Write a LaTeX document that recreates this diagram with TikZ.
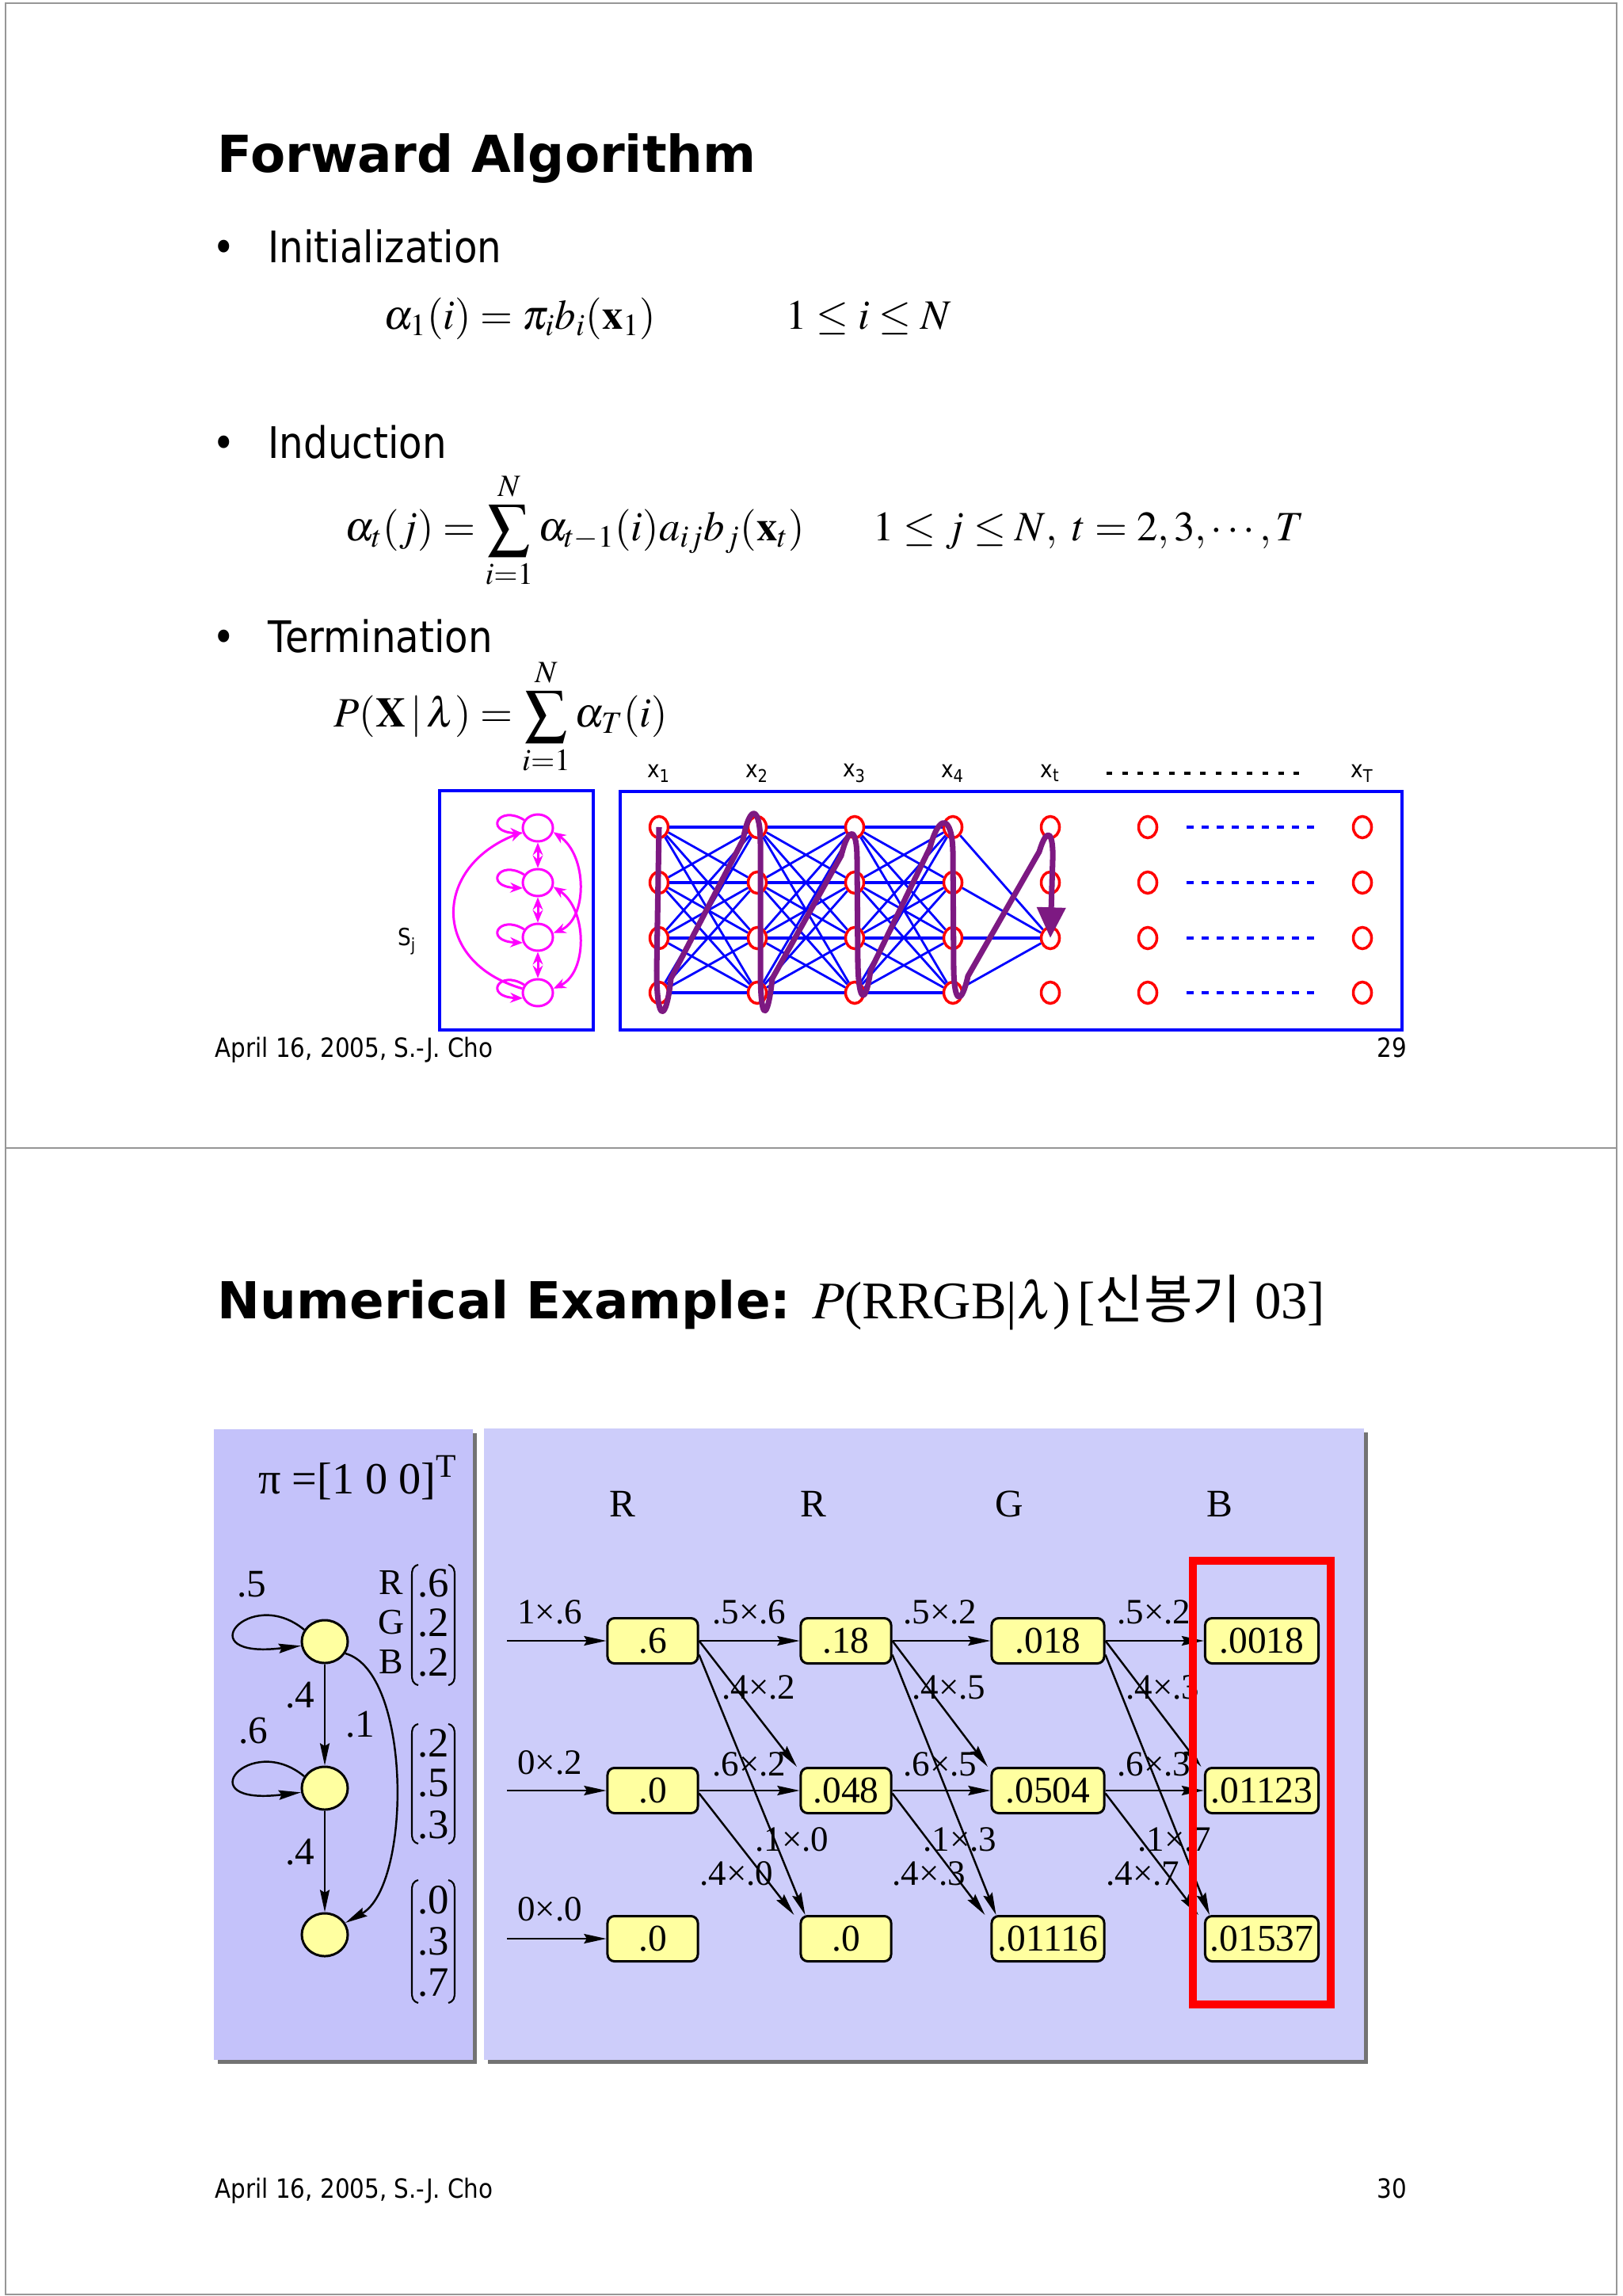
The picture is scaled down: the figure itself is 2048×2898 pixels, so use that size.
\documentclass[tikz,border=0pt]{standalone}
\usepackage{mathptmx}
\usepackage{fontspec}
\setmainfont{Liberation Serif}
\newfontfamily\vsans{DejaVu Sans}[FakeStretch=0.88]
\newfontfamily\vwide{DejaVu Sans}
\newfontfamily\kr{Noto Sans CJK KR}
\usetikzlibrary{arrows.meta,shapes.geometric}
\definecolor{pnlL}{RGB}{196,194,250}
\definecolor{pnlR}{RGB}{205,205,250}
\definecolor{ylw}{RGB}{255,255,160}
\definecolor{pur}{RGB}{125,25,130}
\definecolor{mg}{RGB}{255,0,255}
\definecolor{sbord}{RGB}{150,150,150}
\begin{document}
\begin{tikzpicture}[x=0.01cm,y=-0.01cm,
  rc/.style={ellipse,draw=red,line width=1pt,minimum width=0.23cm,minimum height=0.27cm,inner sep=0pt},
  mc/.style={ellipse,draw=mg,line width=0.85pt,minimum width=0.38cm,minimum height=0.34cm,inner sep=0pt},
  thickedge/.style={blue,line width=1.4pt},
  thinedge/.style={blue,line width=0.8pt},
  marr/.style={mg,line width=0.85pt,-{Stealth[length=4.5pt,width=3.6pt]}},
  mdbl/.style={mg,line width=0.85pt,{Stealth[length=4.5pt,width=3.6pt]}-{Stealth[length=4.5pt,width=3.6pt]}},
  yc/.style={ellipse,draw,fill=ylw,line width=0.85pt,minimum width=0.58cm,minimum height=0.54cm,inner sep=0pt},
  vbox/.style={draw,fill=ylw,line width=0.85pt,rounded corners=2.5pt,minimum height=0.57cm,inner sep=0pt,font=\fontsize{13.5}{14}\selectfont},
  arr/.style={-{Stealth[length=8pt,width=3.4pt,inset=1pt]},line width=0.7pt},
  lbl/.style={font=\fontsize{12.8}{13}\selectfont,inner sep=0pt},
  ttl/.style={anchor=base west,inner sep=0pt,font=\vwide\bfseries\fontsize{18.3}{20}\selectfont},
  bul/.style={anchor=base west,inner sep=0pt,font=\vsans\fontsize{15.6}{18}\selectfont},
  fml/.style={anchor=base west,inner sep=0pt,font=\fontsize{15}{18}\selectfont},
  foot/.style={inner sep=0pt,font=\vsans\fontsize{9.5}{11}\selectfont},
  xl/.style={inner sep=0pt,font=\vsans\fontsize{8.5}{10}\selectfont},
  tm/.style={inner sep=0pt,font=\fontsize{14}{15}\selectfont}]
\useasboundingbox (0,0) rectangle (2048,2898);
\fill[white] (0,0) rectangle (2048,2898);
% slide frames
\draw[sbord,line width=0.8pt] (7,4) rectangle (2041,1449);
\draw[sbord,line width=0.8pt] (7,1449) rectangle (2041,2896);

% ================= Slide 1 =================
\node[ttl] (t1) at (274,218) {Forward Algorithm};
\node[bul,anchor=base] (bu1) at (283,332) {•};
\node[bul] (h1) at (338,332) {Initialization};
\node[fml] (f1) at (484,416) {$\alpha_1(i)=\pi_i b_i(\mathbf{x}_1)$};
\node[fml] (f1c) at (992,416) {$1\le i\le N$};
\node[bul,anchor=base] (bu2) at (283,579) {•};
\node[bul] (h2) at (338,579) {Induction};
\node[fml] (f2) at (435,683) {$\displaystyle \alpha_t(j)=\sum_{i=1}^{N}\alpha_{t-1}(i)a_{ij}b_j(\mathbf{x}_t)$};
\node[fml] (f2c) at (1102,683) {$1\le j\le N,\ t=2,3,\cdots,T$};
\node[bul,anchor=base] (bu3) at (283,824) {•};
\node[bul] (h3) at (338,824) {Termination};
\node[fml] (f3) at (421,918) {$\displaystyle P(\mathbf{X}\,|\,\lambda)=\sum_{i=1}^{N}\alpha_T(i)$};

% header labels
\node[xl] (lx1) at (832,976) {x\textsubscript{1}};
\node[xl] (lx2) at (956,976) {x\textsubscript{2}};
\node[xl] (lx3) at (1079,976) {x\textsubscript{3}};
\node[xl] (lx4) at (1203,976) {x\textsubscript{4}};
\node[xl] (lxt) at (1326,976) {x\textsubscript{t}};
\node[xl] (lxT) at (1720,976) {x\textsubscript{T}};
\coordinate (dsA) at (1397,976);
\coordinate (dsB) at (1641,976);
\draw[line width=1.1pt,dash pattern=on 2pt off 3.6pt] (dsA) -- (dsB);
\node[xl] (lsj) at (514,1188) {S\textsubscript{j}};

% boxes
\draw[blue,line width=1.1pt] (555,998) rectangle (749,1300);
\draw[blue,line width=1.1pt] (783,999) rectangle (1770,1300);

% magenta state diagram
\foreach \i/\y in {1/1045,2/1114,3/1183,4/1253}
  \node[mc] (m\i) at (679,\y) {};
\foreach \i/\j in {1/2,2/3,3/4}
  \draw[mdbl] (m\i.south) -- (m\j.north);
\foreach \i/\y in {1/1045,2/1114,3/1183,4/1253}
  \draw[marr] (m\i.150) .. controls (630,\y-30) and (610,\y+5) .. (m\i.200);
\draw[marr] (m4.165) .. controls (545,1215) and (545,1095) .. (m1.195);
\draw[mdbl] (m1.-15) .. controls (742,1080) and (742,1160) .. (m3.15);
\draw[mdbl] (m2.-15) .. controls (742,1148) and (742,1228) .. (m4.15);

% trellis nodes
\foreach \c/\x in {1/832,2/956,3/1079,4/1203,5/1326,6/1449,7/1720}
  \foreach \r/\y in {1/1044,2/1114,3/1184,4/1253}
    \node[rc] (g\c\r) at (\x,\y) {};
\foreach \c in {1,2,3}{
  \pgfmathtruncatemacro\d{\c+1}
  \foreach \r in {1,...,4}{
    \foreach \s in {1,...,4}{
      \ifnum\r=\s \draw[thickedge] (g\c\r) -- (g\d\s);
      \else \draw[thinedge] (g\c\r) -- (g\d\s); \fi
    }}}
\foreach \r in {1,2,4} \draw[thinedge] (g4\r) -- (g53);
\draw[thickedge] (g43) -- (g53);
\foreach \r in {1,...,4}
  \draw[blue,line width=1.4pt,dash pattern=on 2.6pt off 2.8pt,shorten <=0.36cm,shorten >=0.45cm] (g6\r) -- (g7\r);

% purple path
\draw[pur,line width=2pt,line join=round,-{Triangle[length=11pt,width=10pt]}]
  (g11.center) -- (829,1225)
  .. controls (829,1292) and (841,1292) .. (847,1235)
  -- (938,1060)
  .. controls (947,1012) and (960,1018) .. (960,1065)
  -- (960,1225)
  .. controls (960,1292) and (969,1290) .. (975,1235)
  -- (1062,1080)
  .. controls (1072,1040) and (1082,1045) .. (1082,1085)
  -- (1083,1215)
  .. controls (1084,1268) and (1093,1268) .. (1099,1225)
  -- (1174,1070)
  .. controls (1186,1025) and (1202,1030) .. (1203,1075)
  -- (1204,1225)
  .. controls (1205,1268) and (1214,1268) .. (1222,1232)
  -- (1312,1075)
  .. controls (1322,1042) and (1330,1050) .. (1329,1085)
  -- (g53.center);

% footer
\node[foot,anchor=base west] (ft1) at (271,1334) {April 16, 2005, S.-J. Cho};
\node[foot,anchor=base east] (pg1) at (1777,1334) {29};

% ================= Slide 2 =================
\node[ttl] (t2) at (274,1664) {Numerical Example:};
\node[anchor=base west,inner sep=0pt,font=\fontsize{19}{21}\selectfont] (t2b) at (1025,1664) {$P$(RRGB|$\lambda$)};
\node[anchor=base west,inner sep=0pt,font=\fontsize{19}{21}\selectfont] (t2c) at (1360,1664) {[{\kr 신봉기} 03]};

% panels
\fill[gray!90!black] (275,1809) rectangle (602,2605);
\fill[pnlL] (270,1804) rectangle (597,2600);
\fill[gray!90!black] (616,1808) rectangle (1727,2605);
\fill[pnlR] (611,1803) rectangle (1722,2600);

% left panel
\node[tm,font=\fontsize{16}{17}\selectfont] (pi) at (452,1865) {π =[1 0 0]\textsuperscript{T}};
\node[yc] (s1) at (410,2072) {};
\node[yc] (s2) at (410,2257) {};
\node[yc] (s3) at (410,2442) {};
\draw[arr] (s1) -- (s2);
\draw[arr] (s2) -- (s3);
\draw[arr] (s1.-30) .. controls (520,2110) and (520,2380) .. (s3.30);
\draw[arr] (s1.150) .. controls (315,2000) and (235,2095) .. (s1.190);
\draw[arr] (s2.150) .. controls (315,2185) and (235,2280) .. (s2.190);
\node[tm] (la1) at (318,2000) {.5};
\node[tm] (la2) at (379,2140) {.4};
\node[tm] (la3) at (320,2185) {.6};
\node[tm] (la4) at (455,2177) {.1};
\node[tm] (la5) at (379,2338) {.4};
\node[tm,font=\fontsize{13}{14}\selectfont] (cR) at (494,1998) {R};
\node[tm,font=\fontsize{13}{14}\selectfont] (cG) at (494,2048) {G};
\node[tm,font=\fontsize{13}{14}\selectfont] (cB) at (494,2098) {B};
\foreach \T/\B/\a/\b/\c/\ya/\yb/\yc [count=\k] in {1975/2127/.6/.2/.2/1998/2048/2098, 2176/2327/.2/.5/.3/2200/2251/2303, 2373/2528/.0/.3/.7/2398/2450/2503}{
  \draw[line width=0.6pt] (528,\T) .. controls (521,\T+2) and (520,\T+6) .. (520,\T+14) -- (520,\B-14) .. controls (520,\B-6) and (521,\B-2) .. (528,\B);
  \draw[line width=0.6pt] (566,\T) .. controls (573,\T+2) and (574,\T+6) .. (574,\T+14) -- (574,\B-14) .. controls (574,\B-6) and (573,\B-2) .. (566,\B);
  \node[tm,font=\fontsize{15}{16}\selectfont] (mv\k a) at (547,\ya) {\a};
  \node[tm,font=\fontsize{15}{16}\selectfont] (mv\k b) at (547,\yb) {\b};
  \node[tm,font=\fontsize{15}{16}\selectfont] (mv\k c) at (547,\yc) {\c};
}

% right panel
\node[tm] (hR1) at (786,1898) {R};
\node[tm] (hR2) at (1027,1898) {R};
\node[tm] (hG) at (1274,1898) {G};
\node[tm] (hB) at (1540,1898) {B};

\node[vbox,minimum width=1.14cm] (b11) at (824,2071) {.6};
\node[vbox,minimum width=1.14cm] (b12) at (824,2260) {.0};
\node[vbox,minimum width=1.14cm] (b13) at (824,2447) {.0};
\node[vbox,minimum width=1.14cm] (b21) at (1068,2071) {.18};
\node[vbox,minimum width=1.14cm] (b22) at (1068,2260) {.048};
\node[vbox,minimum width=1.14cm] (b23) at (1068,2447) {.0};
\node[vbox,minimum width=1.42cm] (b31) at (1323,2071) {.018};
\node[vbox,minimum width=1.42cm] (b32) at (1323,2260) {.0504};
\node[vbox,minimum width=1.42cm] (b33) at (1323,2447) {.01116};
\node[vbox,minimum width=1.43cm] (b41) at (1593,2071) {.0018};
\node[vbox,minimum width=1.43cm] (b42) at (1593,2260) {.01123};
\node[vbox,minimum width=1.43cm] (b43) at (1593,2447) {.01537};

\coordinate (in1) at (640,2071);
\coordinate (in2) at (640,2260);
\coordinate (in3) at (640,2447);
\draw[arr] (in1) -- (b11);
\draw[arr] (in2) -- (b12);
\draw[arr] (in3) -- (b13);
\node[lbl] (li1) at (694,2035) {1×.6};
\node[lbl] (li2) at (694,2225) {0×.2};
\node[lbl] (li3) at (694,2410) {0×.0};

\foreach \c in {1,2,3}{
  \pgfmathtruncatemacro\d{\c+1}
  \draw[arr] (b\c1) -- (b\d1);
  \draw[arr] (b\c2) -- (b\d2);
  \draw[arr] (b\c1.east) -- ([xshift=-1pt]b\d2.north west);
  \draw[arr] ([yshift=-5pt]b\c1.east) -- ([xshift=2pt]b\d3.north west);
  \draw[arr] ([yshift=-1pt]b\c2.east) -- ([xshift=-2pt]b\d3.north west);
}
\node[lbl] (e1a) at (946,2035) {.5×.6};
\node[lbl] (e1b) at (958,2130) {.4×.2};
\node[lbl] (e1c) at (946,2227) {.6×.2};
\node[lbl] (e1d) at (1000,2322) {.1×.0};
\node[lbl] (e1e) at (930,2365) {.4×.0};
\node[lbl] (e2a) at (1187,2035) {.5×.2};
\node[lbl] (e2b) at (1198,2130) {.4×.5};
\node[lbl] (e2c) at (1187,2227) {.6×.5};
\node[lbl] (e2d) at (1212,2322) {.1×.3};
\node[lbl] (e2e) at (1173,2365) {.4×.3};
\node[lbl] (e3a) at (1457,2035) {.5×.2};
\node[lbl] (e3b) at (1468,2130) {.4×.3};
\node[lbl] (e3c) at (1457,2227) {.6×.3};
\node[lbl] (e3d) at (1483,2322) {.1×.7};
\node[lbl] (e3e) at (1443,2365) {.4×.7};

\draw[red,line width=3.1pt] (1506,1970) rectangle (1680,2530);

\node[foot,anchor=base west] (ft2) at (271,2774) {April 16, 2005, S.-J. Cho};
\node[foot,anchor=base east] (pg2) at (1777,2774) {30};
\end{tikzpicture}
\end{document}
